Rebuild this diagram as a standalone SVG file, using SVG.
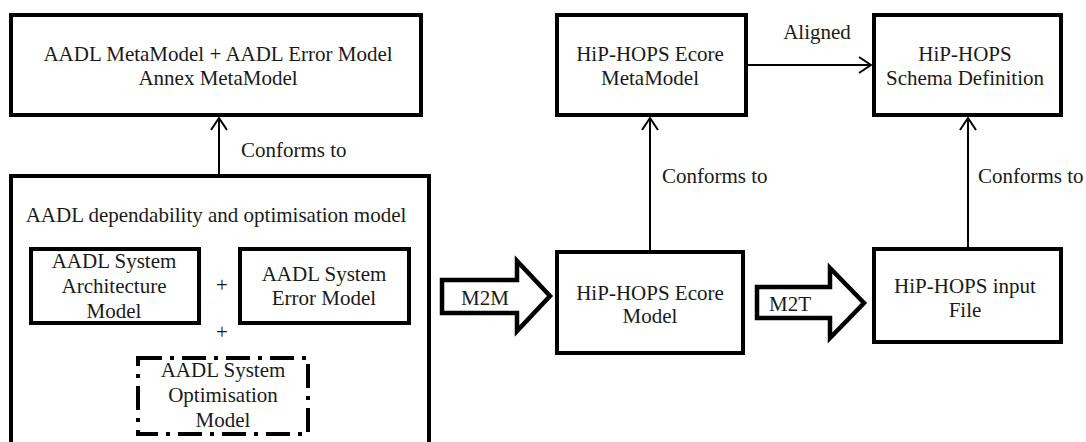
<svg xmlns="http://www.w3.org/2000/svg" width="1086" height="442" viewBox="0 0 1086 442">
  <style>
    .box { fill: #ffffff; stroke: #000000; stroke-width: 4; }
    .dash { fill: none; stroke: #000000; stroke-width: 4; stroke-dasharray: 24 8 4 8; }
    .blk { fill: #ffffff; stroke: #000000; stroke-width: 4.5; stroke-linejoin: miter; }
    .edge { fill: none; stroke: #000000; stroke-width: 2; marker-end: url(#open); }
    text { font-family: 'Liberation Serif', 'DejaVu Serif', serif; font-size: 21px; fill: #1a1a1a; text-anchor: middle; }
    .lbl { text-anchor: start; }
  </style>
  <defs>
    <marker id="open" viewBox="0 0 14 18" refX="13" refY="9" markerWidth="14" markerHeight="18" orient="auto" markerUnits="userSpaceOnUse">
      <path d="M1,1 L13,9 L1,17" fill="none" stroke="#000000" stroke-width="2"/>
    </marker>
  </defs>

  <rect width="1086" height="442" fill="#ffffff"/>

  <!-- connectors -->
  <g id="connectors" font-family="Liberation Serif, DejaVu Serif, serif">
    <line class="edge" x1="219" y1="176" x2="219" y2="118"/>
    <text class="lbl" x="241" y="157">Conforms to</text>

    <line class="edge" x1="748" y1="65" x2="871" y2="65"/>
    <text x="817" y="39">Aligned</text>

    <line class="edge" x1="650" y1="250" x2="650" y2="118"/>
    <text class="lbl" x="662" y="183">Conforms to</text>

    <line class="edge" x1="968" y1="247" x2="968" y2="118"/>
    <text class="lbl" x="978" y="183">Conforms to</text>

    <!-- transformation block arrows -->
    <g id="m2m">
      <polygon class="blk" points="442,280 517,280 517,261 550,296 517,331 517,313 442,313"/>
      <text x="485" y="305">M2M</text>
    </g>
    <g id="m2t">
      <polygon class="blk" points="757,287 830,287 830,268 864,303 830,338 830,318 757,318"/>
      <text x="790" y="311">M2T</text>
    </g>
  </g>

  <g id="aadl-metamodel">
    <rect class="box" x="11" y="15" width="410" height="100"/>
    <text x="218" y="61">AADL MetaModel + AADL Error Model</text>
    <text x="218" y="85">Annex MetaModel</text>
  </g>

  <g id="aadl-model">
    <rect class="box" x="11" y="176" width="418" height="280"/>
    <text x="216" y="222">AADL dependability and optimisation model</text>

    <g id="architecture">
      <rect class="box" x="31" y="249" width="168" height="74"/>
      <text x="114" y="268">AADL System</text>
      <text x="114" y="293">Architecture</text>
      <text x="114" y="318">Model</text>
    </g>
    <text x="222" y="292">+</text>
    <g id="error-model">
      <rect class="box" x="240" y="249" width="169" height="74"/>
      <text x="324" y="281">AADL System</text>
      <text x="324" y="305">Error Model</text>
    </g>
    <text x="222" y="339">+</text>
    <g id="optimisation">
      <rect class="dash" x="138" y="358" width="170" height="76"/>
      <text x="223" y="377">AADL System</text>
      <text x="223" y="402">Optimisation</text>
      <text x="223" y="427">Model</text>
    </g>
  </g>

  <g id="ecore-metamodel">
    <rect class="box" x="557" y="15" width="189" height="100"/>
    <text x="650" y="61">HiP-HOPS Ecore</text>
    <text x="650" y="85">MetaModel</text>
  </g>

  <g id="schema">
    <rect class="box" x="874" y="15" width="187" height="100"/>
    <text x="965" y="61">HiP-HOPS</text>
    <text x="965" y="85">Schema Definition</text>
  </g>

  <g id="ecore-model">
    <rect class="box" x="557" y="252" width="186" height="101"/>
    <text x="650" y="300">HiP-HOPS Ecore</text>
    <text x="650" y="323">Model</text>
  </g>

  <g id="input-file">
    <rect class="box" x="874" y="249" width="187" height="93"/>
    <text x="965" y="293">HiP-HOPS input</text>
    <text x="965" y="317">File</text>
  </g>
</svg>
